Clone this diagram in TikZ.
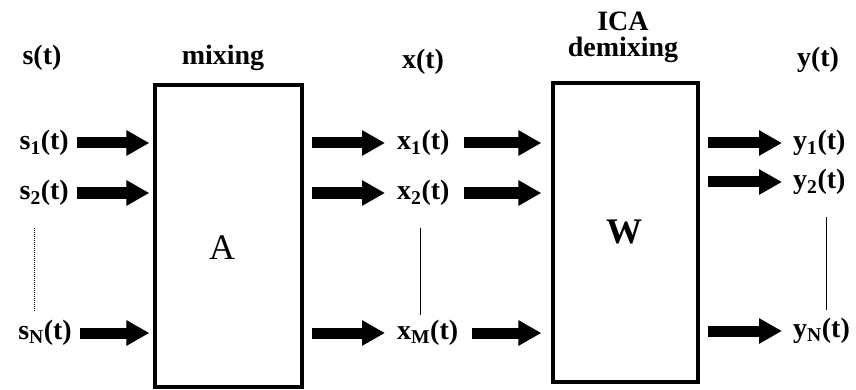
\documentclass[tikz,border=0pt]{standalone}
\usepackage{fontspec}
\setmainfont{Liberation Serif}
\usetikzlibrary{arrows.meta}
\begin{document}
\begin{tikzpicture}[x=1pt,y=-1pt,
  lbl/.style={font=\fontsize{28}{30}\selectfont\bfseries, inner sep=0pt},
  big/.style={font=\fontsize{36}{38}\selectfont, inner sep=0pt},
  blk/.style={draw, line width=3.2pt, inner sep=0pt},
  fat/.style={line width=11pt, -{Triangle[length=23pt,width=24pt]}},
  vdots/.style={line width=1pt}]
\useasboundingbox (0,0) rectangle (856,390);
% headers
\node[lbl] (sh) at (42,58) {s(t)};
\node[lbl] (mh) at (223,58) {mixing};
\node[lbl] (xh) at (423,62) {x(t)};
\node[lbl] (ica) at (623,21) {ICA};
\node[lbl] (dh) at (623,50) {demixing};
\node[lbl] (yh) at (818,60) {y(t)};
% blocks
\node[blk, minimum width=147pt, minimum height=302pt] (A) at (228.5,236) {};
\node[blk, minimum width=145pt, minimum height=299pt] (W) at (625.5,232.5) {};
\node[big] (Al) at (222,248) {A};
\node[big, font=\fontsize{36}{38}\selectfont\bfseries] (Wl) at (624,232) {W};
% sources
\node[lbl, anchor=east] (s1) at (69,143) {s\textsubscript{1}(t)};
\node[lbl, anchor=east] (s2) at (69,193) {s\textsubscript{2}(t)};
\node[lbl, anchor=east] (sN) at (72,333) {s\textsubscript{N}(t)};
% mixtures
\node[lbl, anchor=west] (x1) at (397,143) {x\textsubscript{1}(t)};
\node[lbl, anchor=west] (x2) at (397,193) {x\textsubscript{2}(t)};
\node[lbl, anchor=west] (xM) at (397,333) {x\textsubscript{M}(t)};
% outputs
\node[lbl, anchor=west] (y1) at (793,143) {y\textsubscript{1}(t)};
\node[lbl, anchor=west] (y2) at (793,182) {y\textsubscript{2}(t)};
\node[lbl, anchor=west] (yN) at (793,331) {y\textsubscript{N}(t)};
% arrows sources -> A
\foreach \n in {s1,s2,sN}
  \draw[fat] ([xshift=8pt]\n.east) -- ([xshift=-4pt]\n.east -| A.west);
% arrows A -> x
\foreach \n in {x1,x2,xM}
  \draw[fat] ([xshift=8pt]\n.west -| A.east) -- ([xshift=-12pt]\n.west);
% arrows x -> W
\foreach \n in {x1,x2,xM}
  \draw[fat] ([xshift=14pt]\n.east) -- ([xshift=-10pt]\n.east -| W.west);
% arrows W -> y
\foreach \n in {y1,y2,yN}
  \draw[fat] ([xshift=8pt]\n.west -| W.east) -- ([xshift=-11pt]\n.west);
% continuation lines
\draw[vdots, densely dotted] (34,228) -- (34,312);
\draw[vdots] (420,228) -- (420,315);
\draw[vdots] (826,217) -- (826,310);
\end{tikzpicture}
\end{document}
